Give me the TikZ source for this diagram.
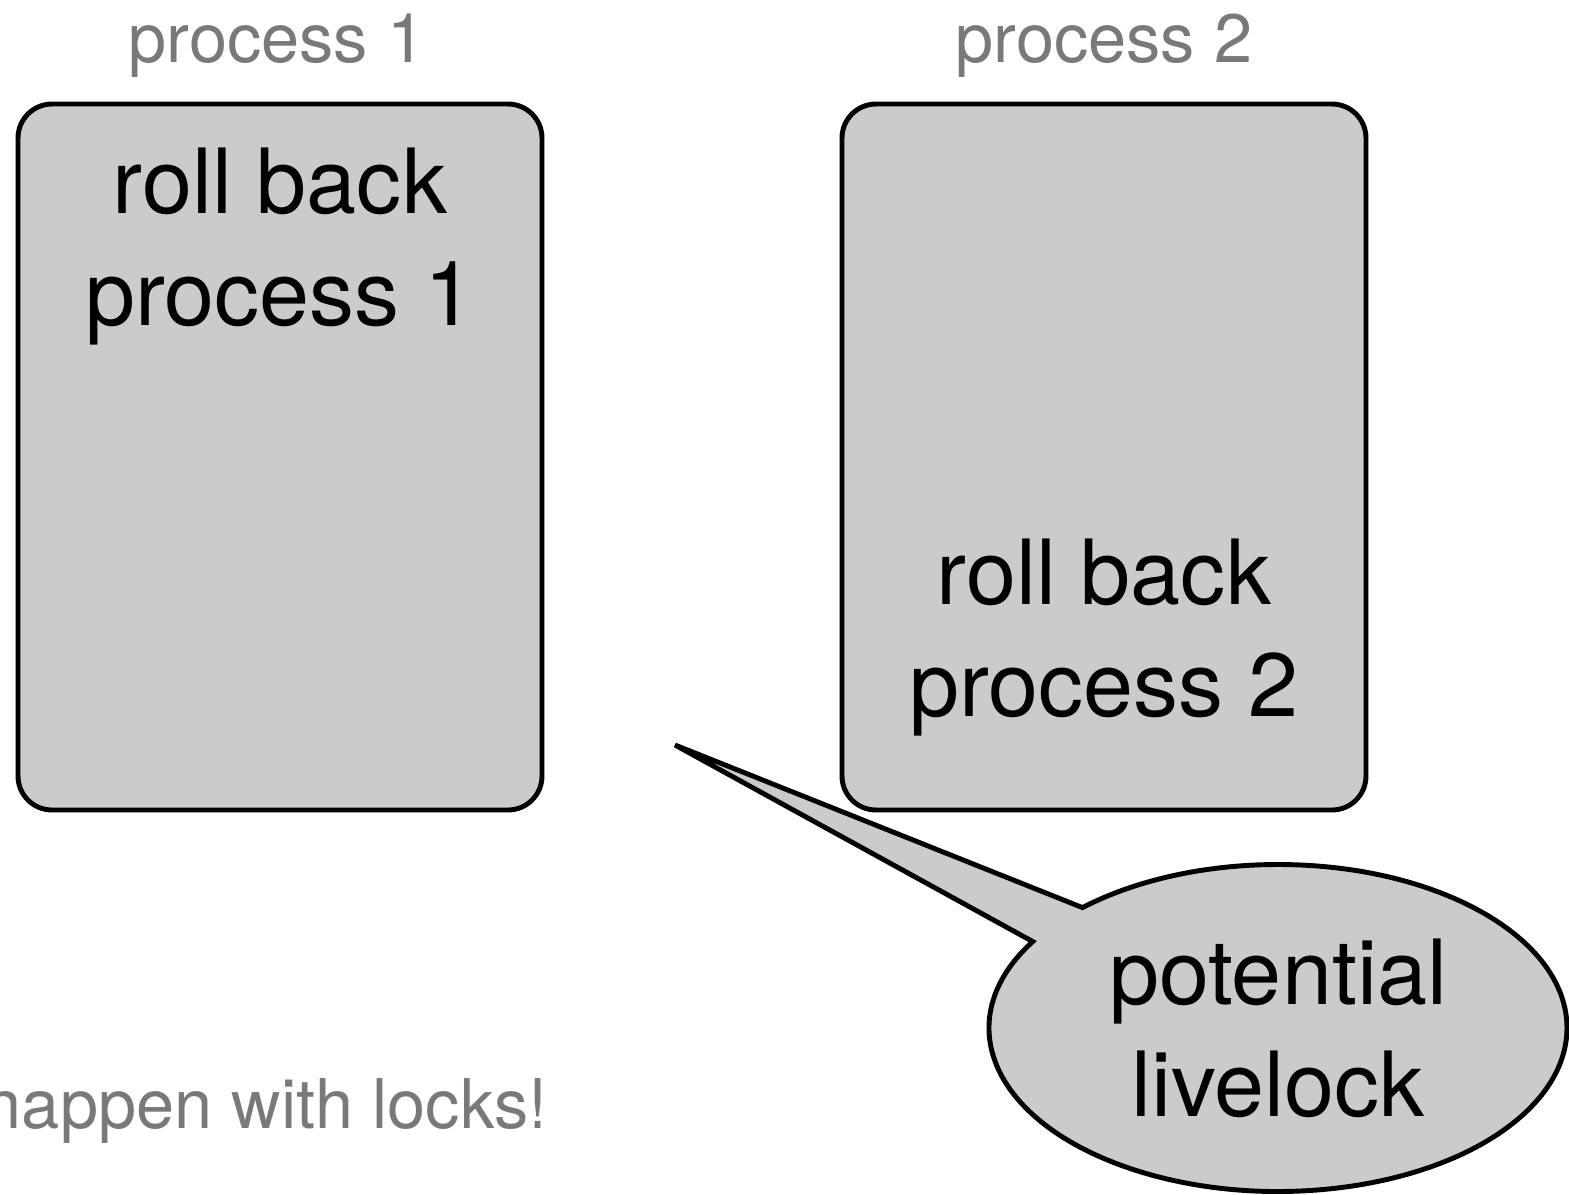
\documentclass[tikz,border=0pt]{standalone}
\usepackage{fontspec}
\setmainfont{TeX Gyre Heros}
\usepackage{tikz}
\usetikzlibrary{positioning,shapes.callouts}
\definecolor{cFill}{RGB}{203,203,203}
\definecolor{cLabel}{RGB}{121,121,121}
\tikzset{
  procbox/.style={rectangle,rounded corners=0.34cm,draw=black,line width=1.4pt,
                  fill=cFill,minimum width=5.24cm,minimum height=7.06cm,inner sep=0pt},
  boxtext/.style={align=center,inner sep=0pt,font=\fontsize{25.6}{31.9}\selectfont},
  proclabel/.style={inner sep=0pt,text=cLabel,font=\fontsize{19.5}{23.4}\selectfont},
  bubble/.style={ellipse callout,draw=black,line width=1.4pt,fill=cFill,
                 align=center,inner sep=0pt,callout pointer arc=15.5,
                 font=\fontsize{25.6}{31.9}\selectfont}
}
\begin{document}
\begin{tikzpicture}
  \useasboundingbox (0,0) rectangle (15.69,-11.94);

  % the two processes
  \node[procbox] (p1box) at (2.80,-4.57) {};
  \node[procbox] (p2box) at (11.04,-4.57) {};

  \node[proclabel,above=0.23cm of p1box,xshift=-0.03cm] (p1name) {process 1};
  \node[proclabel,above=0.23cm of p2box] (p2name) {process 2};

  \node[boxtext,below=0.46cm of p1box.north] (p1roll) {roll back\\process 1};
  \node[boxtext,above=0.76cm of p2box.south] (p2roll) {roll back\\process 2};

  \node[proclabel,anchor=base east] (locks) at (5.48,-11.28) {happen with locks!};

  % speech bubble
  \coordinate (tip) at (6.75,-7.45);
  \node[bubble,minimum width=5.78cm,minimum height=3.27cm,
        callout absolute pointer={(tip)}] (livelock) at (12.78,-10.28)
      {potential\\livelock};

\end{tikzpicture}
\end{document}
